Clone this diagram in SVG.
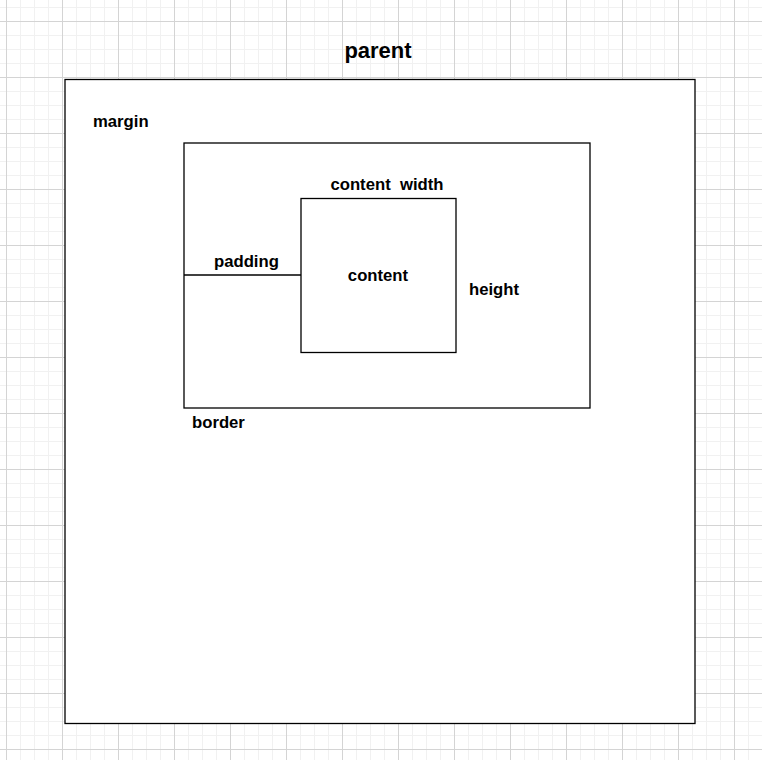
<svg xmlns="http://www.w3.org/2000/svg" width="762" height="760" viewBox="0 0 762 760">
<defs>
<pattern id="minor" x="6" y="7" width="14" height="14" patternUnits="userSpaceOnUse">
<path d="M0.5 0V14M0 0.5H14" stroke="#f1f1f1" stroke-width="1" fill="none"/>
</pattern>
<pattern id="major" x="6" y="21" width="56" height="56" patternUnits="userSpaceOnUse">
<path d="M0.5 0V56M0 0.5H56" stroke="#d4d4d4" stroke-width="1" fill="none"/>
</pattern>
</defs>
<style>
.box{fill:#fff;stroke:#000;stroke-width:1.3}
.t{font-family:"Liberation Sans",Arial,sans-serif;font-weight:bold;font-size:16.7px;fill:#000}
.line{stroke:#000;stroke-width:1.3;fill:none}
</style>
<rect width="762" height="760" fill="#fff"/>
<rect width="762" height="760" fill="url(#minor)"/>
<rect width="762" height="760" fill="url(#major)"/>
<text class="t" x="378" y="58" text-anchor="middle" style="font-size:22px">parent</text>
<g id="parent-box"><rect class="box" x="65" y="79.5" width="630" height="644"/></g>
<g id="margin-label"><text class="t" x="93" y="127">margin</text></g>
<g id="border-box"><rect class="box" x="184" y="143" width="406" height="265"/></g>
<g id="content-box"><rect class="box" x="301" y="198.5" width="155" height="154"/>
<text class="t" x="378" y="281" text-anchor="middle">content</text></g>
<g id="connectors"><path class="line" d="M184 275H301"/></g>
<text class="t" x="387" y="190" text-anchor="middle" xml:space="preserve">content  width</text>
<text class="t" x="214" y="267">padding</text>
<text class="t" x="469" y="295">height</text>
<text class="t" x="192" y="428">border</text>
</svg>
